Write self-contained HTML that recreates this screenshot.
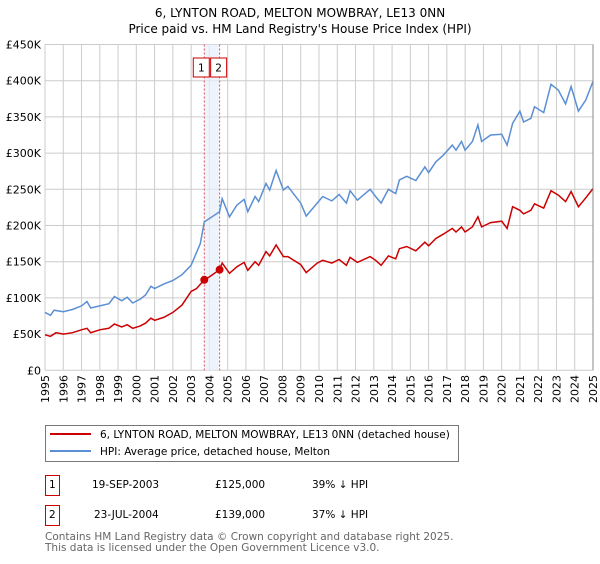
<!DOCTYPE html>
<html><head><meta charset="utf-8"><style>
body{margin:0;background:#fff;width:600px;height:560px;overflow:hidden;font-family:"DejaVu Sans","Liberation Sans",sans-serif;}
svg text{font-family:"DejaVu Sans","Liberation Sans",sans-serif;}
</style></head><body>
<svg id="chart" width="600" height="560">
<text x="300" y="17" text-anchor="middle" font-size="12">6, LYNTON ROAD, MELTON MOWBRAY, LE13 0NN</text>
<text x="300" y="33" text-anchor="middle" font-size="12">Price paid vs. HM Land Registry's House Price Index (HPI)</text>
<g id="grid"></g><g id="ann"></g><g id="series"></g><g id="axes"></g>
<g>
<rect x="45.5" y="425.5" width="413" height="36" fill="#fff" stroke="#777"/>
<line x1="50" y1="434" x2="91" y2="434" stroke="#cc0000" stroke-width="2"/>
<text x="100" y="438" font-size="10.5">6, LYNTON ROAD, MELTON MOWBRAY, LE13 0NN (detached house)</text>
<line x1="50" y1="451" x2="91" y2="451" stroke="#5b8fd4" stroke-width="2"/>
<text x="100" y="455" font-size="10.5">HPI: Average price, detached house, Melton</text>
</g>
<g font-size="10.5">
<rect x="45.5" y="475.5" width="14" height="20" fill="none" stroke="#cc0000"/>
<text x="49" y="488">1</text>
<text x="92" y="488">19-SEP-2003</text>
<text x="215" y="488">£125,000</text>
<text x="312" y="488">39% ↓ HPI</text>
<rect x="45.5" y="505.5" width="14" height="20" fill="none" stroke="#cc0000"/>
<text x="49" y="518">2</text>
<text x="94" y="518">23-JUL-2004</text>
<text x="215" y="518">£139,000</text>
<text x="312" y="518">37% ↓ HPI</text>
</g>
<text x="45" y="540" font-size="10.5" fill="#666">Contains HM Land Registry data © Crown copyright and database right 2025.</text>
<text x="45" y="551" font-size="10.5" fill="#666">This data is licensed under the Open Government Licence v3.0.</text>
</svg>
<script>
const yTicks=[0,50,100,150,200,250,300,350,400,450];
const yTickLabels=["£0","£50K","£100K","£150K","£200K","£250K","£300K","£350K","£400K","£450K"];
const xYears=[1995,1996,1997,1998,1999,2000,2001,2002,2003,2004,2005,2006,2007,2008,2009,2010,2011,2012,2013,2014,2015,2016,2017,2018,2019,2020,2021,2022,2023,2024,2025];
const hpiX=[1995.0,1995.3,1995.5,1996.0,1996.5,1997.0,1997.3,1997.5,1998.0,1998.5,1998.8,1999.2,1999.5,1999.8,2000.2,2000.5,2000.8,2001.0,2001.5,2002.0,2002.5,2003.0,2003.5,2003.72,2004.56,2004.7,2005.1,2005.5,2005.9,2006.1,2006.5,2006.7,2007.1,2007.3,2007.65,2008.05,2008.3,2009.0,2009.3,2009.9,2010.2,2010.7,2011.1,2011.5,2011.7,2012.1,2012.8,2013.1,2013.4,2013.8,2014.2,2014.4,2014.8,2015.3,2015.8,2016.0,2016.4,2016.8,2017.3,2017.5,2017.8,2018.0,2018.4,2018.7,2018.9,2019.4,2020.0,2020.3,2020.6,2021.0,2021.2,2021.6,2021.8,2022.3,2022.7,2023.1,2023.5,2023.8,2024.2,2024.6,2025.0];
const hpiV=[80,76,83,81,84,89,95,86,89,92,102,96,101,93,98,104,116,113,119,124,132,145,175,205,219,237,212,228,236,219,240,233,258,249,276,249,254,231,213,231,240,234,243,231,248,235,250,240,231,250,244,263,268,262,281,273,288,297,311,304,316,304,316,339,316,325,326,311,341,358,343,348,364,356,395,387,368,392,358,373,399];
const ppX=[1995.0,1995.3,1995.6,1996.0,1996.5,1997.0,1997.3,1997.5,1998.0,1998.5,1998.8,1999.2,1999.5,1999.8,2000.2,2000.5,2000.8,2001.0,2001.5,2002.0,2002.5,2003.0,2003.3,2003.72,2004.0,2004.56,2004.7,2005.1,2005.5,2005.9,2006.1,2006.5,2006.7,2007.1,2007.3,2007.65,2008.05,2008.3,2009.0,2009.3,2009.9,2010.2,2010.7,2011.1,2011.5,2011.7,2012.1,2012.8,2013.1,2013.4,2013.8,2014.2,2014.4,2014.8,2015.3,2015.8,2016.0,2016.4,2016.8,2017.3,2017.5,2017.8,2018.0,2018.4,2018.7,2018.9,2019.4,2020.0,2020.3,2020.6,2021.0,2021.2,2021.6,2021.8,2022.3,2022.7,2023.1,2023.5,2023.8,2024.2,2024.5,2025.0];
const ppV=[49,47,52,50,52,56,58,52,56,58,64,60,63,58,61,65,72,69,73,80,90,109,113,125,129,139,148,134,143,149,138,150,145,164,158,173,157,157,146,135,148,152,148,153,145,156,149,157,152,145,158,154,168,171,165,177,172,182,188,196,191,198,191,198,212,198,204,206,196,226,221,216,221,230,224,248,242,233,247,226,235,251];
const saleX=[2003.72,2004.56];
const saleV=[125,139];
const saleLabels=["1","2"];
const L=45,R=593,T=44.5,B=370.3;
const xS=y=>L+(y-1995)/(2025-1995)*(R-L);
const yS=v=>B-v/450*(B-T);
const NS="http://www.w3.org/2000/svg";
function mk(parent,tag,attrs){const e=document.createElementNS(NS,tag);for(const k in attrs)e.setAttribute(k,attrs[k]);document.getElementById(parent).appendChild(e);return e;}
yTicks.forEach((v,i)=>{
 const g=mk('grid','line',{x1:L,x2:R,y1:yS(v),y2:yS(v),stroke:'#ccc'});
 
 
 const t=mk('axes','text',{x:L-4,y:yS(v)+4,'text-anchor':'end','font-size':'11'});
 t.textContent=yTickLabels[i];
 
 
});
xYears.forEach((y,i)=>{
 const g=mk('grid','line',{x1:xS(y),x2:xS(y),y1:T,y2:B,stroke:'#ccc'});
 
 
 const tx=xS(y)+4, ty=375;
 const t=mk('axes','text',{x:tx,y:ty,'text-anchor':'end','font-size':'11',transform:'rotate(-90 '+tx+' '+ty+')'});
 t.textContent=String(y);
 
 
});
const band=mk('ann','rect',{x:xS(saleX[0]),y:T,width:xS(saleX[1])-xS(saleX[0]),height:B-T,fill:'#e8eef9',opacity:0.7});


saleX.forEach((x,i)=>{
 const l=mk('ann','line',{x1:xS(x),x2:xS(x),y1:T,y2:B,stroke:'#e05050','stroke-dasharray':'2,2'});
 
 
 const bx=i==0?xS(x)-11:xS(x)-9;
 const r=mk('ann','rect',{x:bx,y:58,width:16,height:19,fill:'#fff',stroke:'#cc0000'});
 
 
 const t=mk('ann','text',{x:bx+8,y:71.5,'text-anchor':'middle','font-size':'10.5'});
 t.textContent=saleLabels[i];
 
 
});
const pth=(xs,vs)=>xs.map((x,i)=>(i?'L':'M')+xS(x).toFixed(1)+','+yS(vs[i]).toFixed(1)).join('');
const h=mk('series','path',{d:pth(hpiX,hpiV),fill:'none',stroke:'#5b8fd4','stroke-width':1.5});


const p=mk('series','path',{d:pth(ppX,ppV),fill:'none',stroke:'#cc0000','stroke-width':1.5});


saleX.forEach((x,i)=>{
 const c=mk('series','circle',{cx:xS(x),cy:yS(saleV[i]),r:4,fill:'#cc0000'});
 
 
});
const ax=mk('axes','line',{x1:R,x2:R,y1:T,y2:B,stroke:'#888'});


</script>
</body></html>
